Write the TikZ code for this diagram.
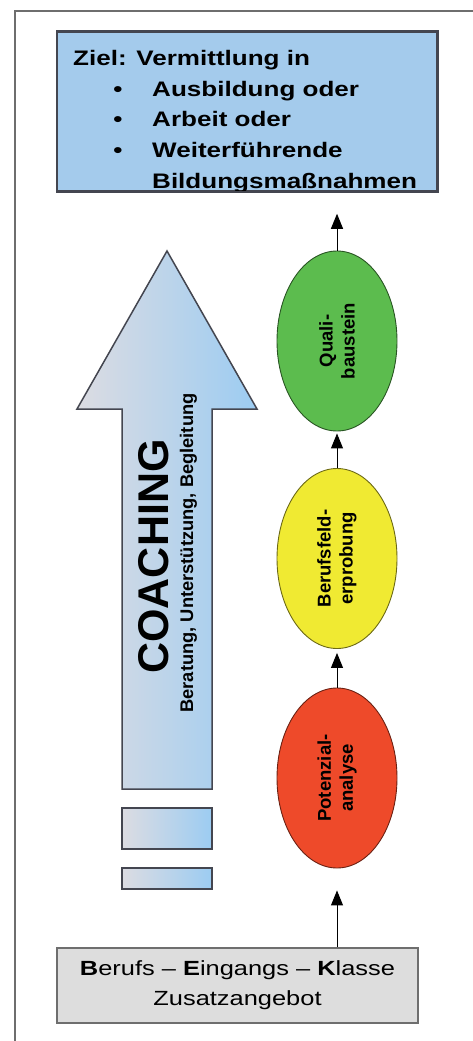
\documentclass[tikz,border=0pt]{standalone}
\usepackage{fontspec}
\setmainfont{Liberation Sans}
\newfontfamily\widesans[FakeStretch=1.24]{Liberation Sans}
\usetikzlibrary{shapes,arrows.meta,positioning}

\definecolor{goalblue}{RGB}{164,203,236}
\definecolor{linegray}{RGB}{68,70,80}
\definecolor{framegray}{RGB}{110,110,110}
\definecolor{coachgray}{RGB}{220,220,226}
\definecolor{coachblue}{RGB}{156,204,242}
\definecolor{qualigreen}{RGB}{92,188,78}
\definecolor{feldyellow}{RGB}{240,234,50}
\definecolor{potred}{RGB}{238,74,42}
\definecolor{entrygray}{RGB}{221,221,221}

\begin{document}
\begin{tikzpicture}[
    x=1pt, y=-1pt,
    goalbox/.style={rectangle, draw=linegray, line width=1.5pt, fill=goalblue, minimum width=380pt, minimum height=159pt, inner sep=0pt},
    goaltext/.style={font=\widesans\bfseries\fontsize{21}{30}\selectfont, inner sep=0pt},
    stepellipse/.style={ellipse, draw=#1!45!black, fill=#1, line width=0.9pt, rotate=90, minimum width=180pt, minimum height=120pt, inner sep=0pt, align=center, font=\bfseries\fontsize{18.5}{22}\selectfont},
    coachfill/.style={draw=linegray, line width=1.5pt, left color=coachgray, right color=coachblue},
    stubbox/.style={coachfill, rectangle, minimum width=90pt, inner sep=0pt},
    entrybox/.style={rectangle, draw=framegray, line width=1.5pt, fill=entrygray, minimum width=361pt, minimum height=75pt, inner sep=0pt, align=center, font=\widesans\fontsize{20.5}{30}\selectfont},
    arrow/.style={-{Triangle[width=12pt,length=15pt]}, line width=1pt}
]
\useasboundingbox (0,0) rectangle (473,1041);

% Frame
\draw[framegray, line width=1.5pt] (15,1041) -- (15,11) -- (473,11);

% Goal
\node[goalbox] (goal) at (247,111.5) {};
\begin{scope}
\clip (goal.south west) rectangle (goal.north east);
\node[goaltext, anchor=base west] (goalhead) at (73,66) {Ziel: Vermittlung in};
\foreach \y/\txt [count=\i] in {96/Ausbildung oder, 126/Arbeit oder, 157/Weiterführende} {
    \node[goaltext, anchor=base] (bullet\i) at (118,\y) {•};
    \node[goaltext, anchor=base west] (item\i) at (152,\y) {\txt};
}
\node[goaltext, anchor=base west] (item4) at (152,188) {Bildungsmaßnahmen};
\end{scope}
\draw[linegray, line width=1.5pt] (goal.south west) rectangle (goal.north east);

% Coaching arrow
\draw[coachfill] (122,789) -- (122,409) -- (77,409) -- (167,251) -- (257,409) -- (212,409) -- (212,789) -- cycle;
\node[font=\bfseries\fontsize{43}{43}\selectfont, rotate=90, inner sep=0pt] (coach) at (153.5,556.5) {COACHING};
\node[font=\bfseries\fontsize{18.3}{20}\selectfont, rotate=90, anchor=base, inner sep=0pt] (coachsub) at (193,553) {Beratung, Unterstützung, Begleitung};

\node[stubbox, minimum height=41pt] (stubtop) at (167,828.5) {};
\node[stubbox, minimum height=21pt] (stubbottom) at (167,878.5) {};

% Steps
\node[stepellipse=potred] (potenzial) at (337,778) {Potenzial-\\analyse};
\node[stepellipse=feldyellow] (feld) at (337,558.5) {Berufsfeld-\\erprobung};
\node[stepellipse=qualigreen] (quali) at (337,341) {Quali-\\baustein};

% Entry
\node[entrybox] (entry) at (237.5,985.5) {\textbf{B}erufs – \textbf{E}ingangs – \textbf{K}lasse\\Zusatzangebot};

% Arrows
\draw[arrow, shorten >=22pt] (entry.north -| potenzial.center) -- (potenzial);
\draw[arrow, shorten >=4pt] (potenzial) -- (feld);
\draw[arrow, shorten >=2pt] (feld) -- (quali);
\draw[arrow, shorten >=22pt] (quali) -- (quali |- goal.south);

\end{tikzpicture}
\end{document}
